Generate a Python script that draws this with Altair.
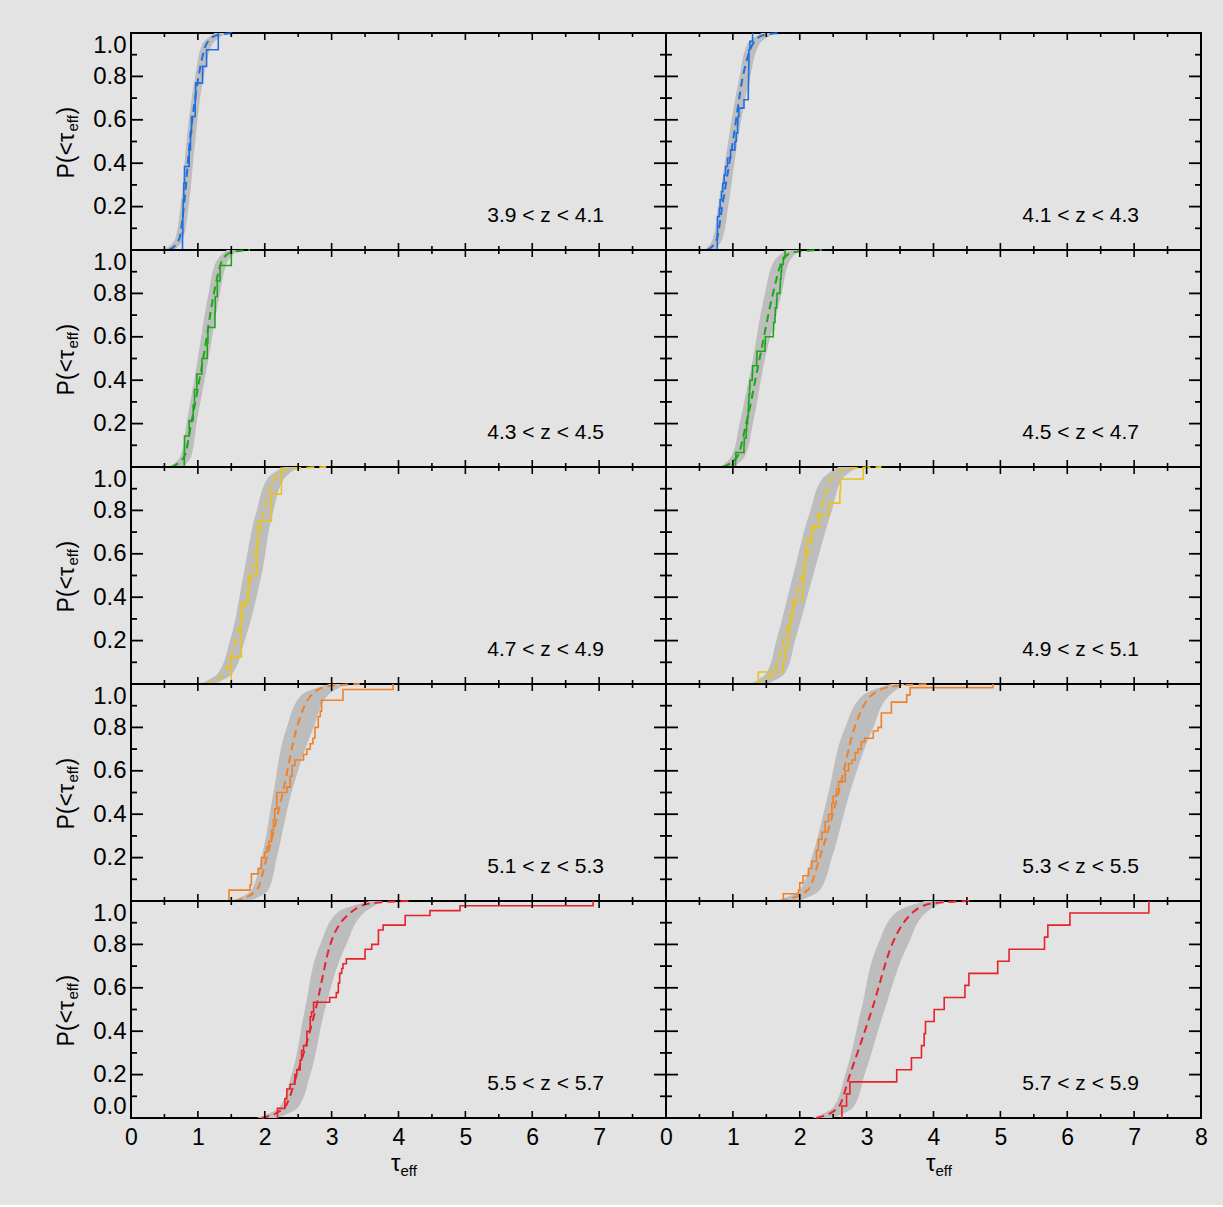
import altair as alt
import pandas as pd

# Panel geometry (plot area of one panel, pixels)
W, H = 535, 217
FONT = "Liberation Sans"
BG = "#e3e3e3"
BAND_GRAY = "#bdbdbd"

Z_BINS = ["3.9 < z < 4.1", "4.1 < z < 4.3", "4.3 < z < 4.5", "4.5 < z < 4.7",
          "4.7 < z < 4.9", "4.9 < z < 5.1", "5.1 < z < 5.3", "5.3 < z < 5.5",
          "5.5 < z < 5.7", "5.7 < z < 5.9"]
LINE_COLORS = ["#1f6fe0", "#1f6fe0", "#1aa81a", "#1aa81a", "#e6c41c",
               "#e6c41c", "#ef8228", "#ef8228", "#e8222c", "#e8222c"]

# Model envelope: tau_eff of the lower / upper CDF at the cumulative levels P_BAND
P_BAND = [0.0, 0.05, 0.2, 0.5, 0.8, 0.95, 1.0]
BAND_LO = [
    [0.50, 0.66, 0.74, 0.83, 0.96, 1.07, 1.25],
    [0.58, 0.70, 0.78, 0.93, 1.10, 1.22, 1.43],
    [0.58, 0.74, 0.83, 1.00, 1.16, 1.28, 1.43],
    [0.80, 0.98, 1.10, 1.30, 1.48, 1.62, 1.80],
    [1.03, 1.30, 1.48, 1.68, 1.88, 2.05, 2.28],
    [1.26, 1.50, 1.65, 1.90, 2.16, 2.35, 2.58],
    [1.50, 1.80, 1.95, 2.13, 2.33, 2.55, 2.97],
    [1.63, 2.00, 2.18, 2.43, 2.68, 2.95, 3.37],
    [1.88, 2.22, 2.40, 2.60, 2.83, 3.10, 3.57],
    [2.18, 2.50, 2.68, 2.92, 3.17, 3.45, 3.87],
]
BAND_HI = [
    [0.65, 0.78, 0.86, 0.96, 1.09, 1.22, 1.43],
    [0.73, 0.84, 0.93, 1.07, 1.26, 1.40, 1.63],
    [0.78, 0.90, 0.98, 1.16, 1.33, 1.45, 1.60],
    [1.00, 1.18, 1.30, 1.48, 1.73, 1.85, 2.00],
    [1.25, 1.52, 1.70, 1.95, 2.13, 2.30, 2.50],
    [1.50, 1.78, 1.93, 2.20, 2.48, 2.65, 2.88],
    [1.78, 2.05, 2.18, 2.40, 2.73, 2.95, 3.22],
    [1.98, 2.30, 2.48, 2.75, 3.10, 3.35, 3.57],
    [2.18, 2.50, 2.68, 2.90, 3.22, 3.50, 3.77],
    [2.48, 2.80, 2.97, 3.27, 3.62, 3.90, 4.17],
]

# Median model CDF (dashed)
P_MED = [0.0, 0.05, 0.2, 0.5, 0.8, 0.95, 0.99, 1.0]
MED = [
    [0.57, 0.72, 0.79, 0.88, 1.01, 1.13, 1.28, 1.58],
    [0.62, 0.76, 0.84, 1.00, 1.15, 1.30, 1.45, 1.73],
    [0.60, 0.80, 0.90, 1.08, 1.24, 1.36, 1.50, 1.78],
    [0.85, 1.07, 1.20, 1.40, 1.60, 1.74, 1.90, 2.33],
    [1.10, 1.40, 1.57, 1.80, 1.99, 2.15, 2.35, 2.92],
    [1.32, 1.60, 1.76, 2.03, 2.30, 2.48, 2.68, 3.22],
    [1.55, 1.88, 2.03, 2.27, 2.48, 2.70, 2.95, 3.42],
    [1.70, 2.12, 2.30, 2.58, 2.82, 3.08, 3.40, 3.97],
    [1.95, 2.30, 2.48, 2.76, 2.98, 3.30, 3.60, 4.17],
    [2.25, 2.58, 2.75, 3.08, 3.38, 3.70, 4.00, 4.60],
]

# Observed sightlines: distinct tau_eff values and cumulative counts
STEP_TAU = [
    [0.77, 0.775, 0.78, 0.79, 0.80, 0.87, 0.89, 0.905, 0.96, 0.967, 1.07, 1.13, 1.305],
    [0.767, 0.77, 0.797, 0.81, 0.83, 0.85, 0.87, 0.89, 0.92, 0.965, 1.03, 1.05,
     1.07, 1.075, 1.09, 1.166, 1.23, 1.232, 1.235, 1.237, 1.24, 1.255, 1.295],
    [0.797, 0.80, 0.87, 0.93, 0.95, 0.985, 1.06, 1.14, 1.15, 1.255, 1.26, 1.29, 1.33, 1.50],
    [1.04, 1.045, 1.166, 1.17, 1.20, 1.206, 1.22, 1.23, 1.235, 1.24, 1.25, 1.256,
     1.29, 1.295, 1.355, 1.36, 1.48, 1.485, 1.604, 1.61, 1.63, 1.635, 1.654, 1.66,
     1.704, 1.71, 1.72, 1.73, 1.754, 1.78],
    [1.50, 1.65, 1.655, 1.755, 1.88, 1.90, 2.10, 2.25],
    [1.38, 1.754, 1.78, 1.83, 1.85, 1.88, 1.90, 2.05, 2.06, 2.07, 2.09, 2.10,
     2.18, 2.30, 2.43, 2.60, 2.61, 2.95],
    [1.465, 1.78, 1.80, 1.90, 1.95, 2.00, 2.03, 2.06, 2.10, 2.13, 2.15, 2.18,
     2.33, 2.38, 2.41, 2.45, 2.58, 2.63, 2.68, 2.72, 2.75, 2.80, 2.83, 2.85, 3.17, 3.92],
    [1.754, 1.98, 2.00, 2.05, 2.13, 2.18, 2.25, 2.28, 2.33, 2.38, 2.43, 2.48, 2.50,
     2.55, 2.58, 2.68, 2.73, 2.78, 2.83, 2.87, 2.92, 2.97, 3.10, 3.17, 3.22, 3.37,
     3.60, 3.65, 4.89],
    [2.19, 2.30, 2.33, 2.38, 2.45, 2.48, 2.53, 2.55, 2.58, 2.63, 2.68, 2.70, 2.73,
     2.97, 3.07, 3.10, 3.12, 3.15, 3.17, 3.22, 3.50, 3.60, 3.70, 3.77, 4.10, 4.47,
     4.92, 6.91],
    [2.63, 2.70, 2.75, 3.45, 3.67, 3.82, 3.86, 3.88, 4.01, 4.16, 4.47, 4.53, 4.96,
     5.13, 5.66, 5.71, 6.04, 7.22],
]
STEP_CUM = [
    list(range(1, 14)),
    [2, 4, 5, 6, 7, 8, 9, 10, 11, 12, 13, 14, 15, 16, 17, 18, 19, 20, 21, 22, 24, 25, 26],
    list(range(1, 15)),
    list(range(1, 31)),
    [1, 3, 3, 4, 5, 6, 7, 8],
    list(range(1, 19)),
    [2, 3, 5, 6, 8, 9, 10, 11, 13, 15, 17, 20, 21, 23, 25, 26, 27, 28, 29, 30,
     32, 34, 35, 37, 39, 40],
    [2, 3, 5, 7, 9, 11, 14, 17, 19, 22, 24, 27, 29, 31, 33, 36, 38, 39, 41, 42,
     44, 45, 47, 48, 52, 55, 57, 59, 60],
    [2, 4, 6, 7, 9, 10, 12, 14, 15, 18, 21, 22, 24, 25, 26, 28, 30, 31, 32, 33,
     35, 36, 39, 40, 42, 43, 44, 45],
    list(range(1, 19)),
]

X_MAJOR = [0, 1, 2, 3, 4, 5, 6, 7, 8]
X_MINOR = [0.5, 1.5, 2.5, 3.5, 4.5, 5.5, 6.5, 7.5]
Y_MAJOR = [0.2, 0.4, 0.6, 0.8]
Y_MINOR = [0.1, 0.3, 0.5, 0.7, 0.9]
X_LABELS_LEFT = [0, 1, 2, 3, 4, 5, 6, 7]
X_LABELS_RIGHT = [0, 1, 2, 3, 4, 5, 6, 7, 8]
Y_LABELS = [0.2, 0.4, 0.6, 0.8, 1.0]
Y_LABELS_BOTTOM = [0.0, 0.2, 0.4, 0.6, 0.8, 1.0]

XS = alt.Scale(domain=[0, 8], nice=False, zero=False)
YS = alt.Scale(domain=[0, 1], nice=False, zero=False)


def text_layer(s, size, x, y, **mark):
    return alt.Chart(pd.DataFrame({"s": [s]})).mark_text(
        font=FONT, fontSize=size, color="black", **mark
    ).encode(x=alt.value(x), y=alt.value(y), text="s:N")


def panel(i):
    row, col = divmod(i, 2)
    is_bottom = row == 4
    is_left = col == 0
    color = LINE_COLORS[i]

    if is_bottom:
        xaxis = alt.Axis(values=X_LABELS_LEFT if is_left else X_LABELS_RIGHT,
                         format="d", ticks=False, domain=False, grid=False,
                         labelFlush=False, labelPadding=8, labelFontSize=23,
                         title=None)
    else:
        xaxis = None
    if is_left:
        yaxis = alt.Axis(values=Y_LABELS_BOTTOM if is_bottom else Y_LABELS,
                         format=".1f", ticks=False, domain=False, grid=False,
                         labelFlush=True, labelPadding=5, labelFontSize=24,
                         title=None)
    else:
        yaxis = None

    def X(f):
        return alt.X(f, type="quantitative", scale=XS, axis=xaxis)

    def Y(f):
        return alt.Y(f, type="quantitative", scale=YS, axis=yaxis)

    band_df = pd.DataFrame({"p": P_BAND, "lo": BAND_LO[i], "hi": BAND_HI[i]})
    band = alt.Chart(band_df).mark_area(
        orient="horizontal", interpolate="monotone", color=BAND_GRAY
    ).encode(x=X("lo"), x2=alt.X2("hi"), y=Y("p"))

    med_df = pd.DataFrame({"tau": MED[i], "p": P_MED})
    med = alt.Chart(med_df).mark_line(
        interpolate="monotone", strokeDash=[8, 5], strokeWidth=2, color=color
    ).encode(x=X("tau"), y=Y("p"), order=alt.Order("tau:Q"))

    taus, cums = STEP_TAU[i], STEP_CUM[i]
    n = cums[-1]
    st_tau = [taus[0]] + taus
    st_p = [0.0] + [c / n for c in cums]
    step_df = pd.DataFrame({"tau": st_tau, "p": st_p, "k": range(len(st_tau))})
    step = alt.Chart(step_df).mark_line(
        interpolate="step-after", strokeWidth=1.6, color=color
    ).encode(x=X("tau"), y=Y("p"), order=alt.Order("k:Q"))

    layers = [band, med, step]

    # inward-pointing ticks on all four sides
    for vals, ln in ((X_MAJOR, 7), (X_MINOR, 4)):
        d = pd.DataFrame({"v": vals})
        layers.append(alt.Chart(d).mark_rule(color="black", strokeWidth=1.6).encode(
            x=X("v"), y=alt.value(H), y2=alt.value(H - ln)))
        layers.append(alt.Chart(d).mark_rule(color="black", strokeWidth=1.6).encode(
            x=X("v"), y=alt.value(0), y2=alt.value(ln)))
    for vals, ln in ((Y_MAJOR, 12), (Y_MINOR, 6)):
        d = pd.DataFrame({"v": vals})
        layers.append(alt.Chart(d).mark_rule(color="black", strokeWidth=1.8).encode(
            y=Y("v"), x=alt.value(0), x2=alt.value(ln)))
        layers.append(alt.Chart(d).mark_rule(color="black", strokeWidth=1.8).encode(
            y=Y("v"), x=alt.value(W), x2=alt.value(W - ln)))

    layers.append(text_layer(Z_BINS[i], 21, W - 62, H - 34,
                             align="right", baseline="middle"))

    if is_left:
        # P(<tau_eff) with subscript, reading upwards
        yc = H / 2
        layers.append(text_layer("P(<τ", 23, -64, yc + 37, angle=270,
                                 align="left", baseline="middle"))
        layers.append(text_layer("eff", 15, -58, yc - 10, angle=270,
                                 align="left", baseline="middle"))
        layers.append(text_layer(")", 23, -64, yc - 27, angle=270,
                                 align="left", baseline="middle"))
    if is_bottom:
        layers.append(text_layer("τ", 24, W / 2 + 2, H + 53,
                                 align="right", baseline="alphabetic"))
        layers.append(text_layer("eff", 15, W / 2 + 2, H + 58,
                                 align="left", baseline="alphabetic"))

    return alt.layer(*layers).properties(width=W, height=H)


chart = alt.concat(*[panel(i) for i in range(10)], columns=2, spacing=0,
                   bounds="flush").properties(
    background=BG,
    padding={"left": 55, "top": 28, "right": 14, "bottom": 25},
).configure_view(
    stroke="black", strokeWidth=2
).configure_axis(
    labelFont=FONT, labelColor="black"
)

chart.save("out.html", embed_options={"renderer": "svg", "actions": False})
